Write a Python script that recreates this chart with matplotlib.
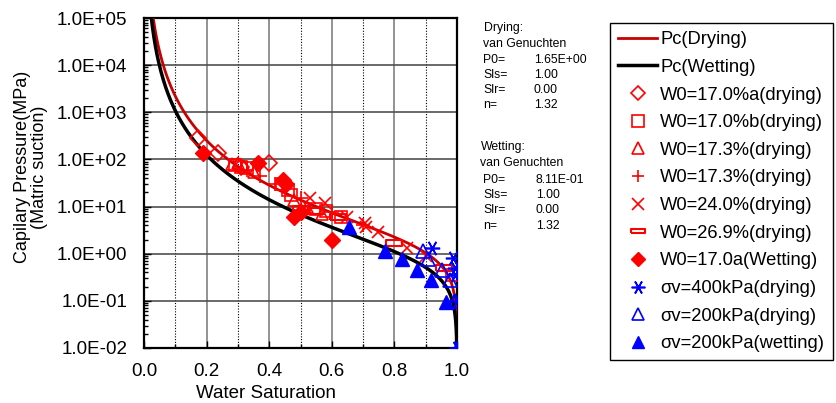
import numpy as np
import matplotlib
matplotlib.use("Agg")
import matplotlib.pyplot as plt
from matplotlib.ticker import FuncFormatter, MultipleLocator, LogLocator

plt.rcParams['font.family'] = ['Liberation Sans', 'DejaVu Sans']

# van Genuchten parameters shown on the chart
dry_P0, dry_Sls, dry_Slr, dry_n = 1.65, 1.00, 0.00, 1.32
wet_P0, wet_Sls, wet_Slr, wet_n = 0.811, 1.00, 0.00, 1.32

# measured points (saturation, capillary pressure MPa)
w170a_dry_S = [0.173, 0.235, 0.40, 0.31]
w170a_dry_P = [280, 140, 82, 70]
w170b_dry_S = [0.29, 0.31, 0.33, 0.44, 0.46, 0.47, 0.55, 0.58, 0.63, 0.985]
w170b_dry_P = [75, 70, 65, 30, 22, 18, 9, 8, 6, 0.35]
w173_dry_S = [0.28, 0.30, 0.32, 0.35, 0.48, 0.52, 0.57]
w173_dry_P = [80, 85, 72, 55, 14, 10, 7]
w173p_dry_S = [0.33, 0.37, 0.42, 0.50, 0.60, 0.70]
w173p_dry_P = [60, 45, 30, 15, 7.5, 4]
w240_dry_S = [0.53, 0.578, 0.648, 0.706, 0.71, 0.748, 0.84, 0.90]
w240_dry_P = [15, 12, 6, 4.5, 3.7, 2.9, 1.3, 0.9]
w269_dry_S = [0.50, 0.55, 0.62, 0.80, 0.96]
w269_dry_P = [9, 8, 6, 1.7, 0.5]
w170a_wet_S = [0.19, 0.365, 0.445, 0.455, 0.48, 0.50, 0.60]
w170a_wet_P = [140, 83, 36, 30, 6, 7.5, 2]
s400_dry_S = [0.92, 0.987, 0.995, 0.994, 1.0, 1.0]
s400_dry_P = [1.3, 0.8, 0.5, 0.35, 0.1, 0.01]
s200_dry_S = [0.891, 0.907, 0.952, 0.978, 0.995]
s200_dry_P = [1.15, 0.78, 0.45, 0.28, 0.1]
s200_wet_S = [0.655, 0.77, 0.824, 0.872, 0.917, 0.965, 1.0]
s200_wet_P = [3.7, 1.15, 0.78, 0.45, 0.28, 0.095, 0.01]


def van_genuchten(S, P0, Sls, Slr, n):
    m = 1.0 - 1.0 / n
    Se = (S - Slr) / (Sls - Slr)
    return P0 * (Se ** (-1.0 / m) - 1.0) ** (1.0 - m)


S = np.concatenate([np.linspace(0.005, 0.99, 400), 1 - np.logspace(-2, -6, 200)])
pc_dry = van_genuchten(S, dry_P0, dry_Sls, dry_Slr, dry_n)
pc_wet = van_genuchten(S, wet_P0, wet_Sls, wet_Slr, wet_n)

W, H = 836, 403
fig = plt.figure(figsize=(W / 100, H / 100), dpi=100)
ax = fig.add_axes([144 / W, 1 - 348 / H, (457 - 144) / W, (348 - 18) / H])

ax.plot(S, pc_dry, color='#c80000', lw=2, label='Pc(Drying)', zorder=3)
ax.plot(S, pc_wet, color='black', lw=2.5, label='Pc(Wetting)', zorder=3)

red, blue = '#ff0000', '#0000ff'
dash = [(-1, -0.35), (1, -0.35), (1, 0.35), (-1, 0.35), (-1, -0.35)]
ms = 9
ax.plot(w170a_dry_S, w170a_dry_P, ls='none', marker='D', ms=ms - 1, mfc='none', mec=red, mew=1.2,
        label='W0=17.0%a(drying)', zorder=4)
ax.plot(w170b_dry_S, w170b_dry_P, ls='none', marker='s', ms=ms, mfc='none', mec=red, mew=1.2,
        label='W0=17.0%b(drying)', zorder=4)
ax.plot(w173_dry_S, w173_dry_P, ls='none', marker='^', ms=ms, mfc='none', mec=red, mew=1.2,
        label='W0=17.3%(drying)', zorder=4)
ax.plot(w173p_dry_S, w173p_dry_P, ls='none', marker='+', ms=ms + 1, mec=red, mew=1.2,
        label='W0=17.3%(drying)', zorder=4)
ax.plot(w240_dry_S, w240_dry_P, ls='none', marker='x', ms=ms, mec=red, mew=1.2,
        label='W0=24.0%(drying)', zorder=4)
ax.plot(w269_dry_S, w269_dry_P, ls='none', marker=dash, ms=ms + 2, mfc='none', mec=red, mew=1.5,
        label='W0=26.9%(drying)', zorder=4)
ax.plot(w170a_wet_S, w170a_wet_P, ls='none', marker='D', ms=ms - 1, mfc=red, mec=red,
        label='W0=17.0a(Wetting)', zorder=4)
ax.plot(s400_dry_S, s400_dry_P, ls='none', marker=(6, 2, 90), ms=ms + 2, mec=blue, mew=1.2,
        label='σv=400kPa(drying)', zorder=5)
ax.plot(s200_dry_S, s200_dry_P, ls='none', marker='^', ms=ms + 1, mfc='none', mec=blue, mew=1.2,
        label='σv=200kPa(drying)', zorder=5)
ax.plot(s200_wet_S, s200_wet_P, ls='none', marker='^', ms=ms + 1, mfc=blue, mec=blue,
        label='σv=200kPa(wetting)', zorder=5)

ax.set_yscale('log')
ax.set_xlim(0, 1)
ax.set_ylim(1e-2, 1e5)
ax.xaxis.set_major_locator(MultipleLocator(0.2))
ax.xaxis.set_minor_locator(MultipleLocator(0.1))
ax.xaxis.set_major_formatter(FuncFormatter(lambda v, p: f"{v:.1f}"))
ax.yaxis.set_major_locator(LogLocator(base=10, numticks=20))
ax.yaxis.set_minor_locator(LogLocator(base=10, subs=np.arange(2, 10), numticks=20))
ax.yaxis.set_major_formatter(FuncFormatter(lambda v, p: f"{v:.1E}"))
ax.tick_params(which='both', direction='in', labelsize=13.5, length=5, width=1)
ax.tick_params(which='minor', length=3)
ax.tick_params(axis='x', pad=11)
ax.tick_params(axis='y', pad=12)
ax.grid(True, axis='x', which='major', color='#808080', lw=1.2)
ax.grid(True, axis='x', which='minor', color='black', lw=0.8, ls=(0, (1, 1.5)))
ax.grid(True, axis='y', which='major', color='#505050', lw=1.2)
for sp in ax.spines.values():
    sp.set_linewidth(1.6)

# axis titles
fig.text(266 / W, 1 - 393 / H, 'Water Saturation', fontsize=13.5, ha='center', va='center')
fig.text(31 / W, 1 - 167 / H, 'Capilary Pressure(MPa)\n(Matric suction)', fontsize=13,
         rotation=90, ha='center', va='center', linespacing=1.0, multialignment='center')

# fitted parameter text
def ftxt(x, y, s, size=8.8):
    fig.text(x / W, 1 - y / H, s, fontsize=size, va='center', ha='left')

ftxt(484, 28, 'Drying:')
ftxt(483, 44, 'van Genuchten')
for (lbl, val, y) in [('P0=', '1.65E+00', 60), ('Sls=', '1.00', 75), ('Slr=', '0.00', 90), ('n=', '1.32', 105)]:
    ftxt(483, y, lbl)
    ftxt(534, y, val)
ftxt(481, 147, 'Wetting:')
ftxt(480, 163, 'van Genuchten')
for (lbl, val, y) in [('P0=', '8.11E-01', 180), ('Sls=', '1.00', 195), ('Slr=', '0.00', 210), ('n=', '1.32', 226)]:
    ftxt(483, y, lbl)
    ftxt(536, y, val)

leg = fig.legend(loc='upper left', bbox_to_anchor=(610 / W, 1 - 23 / H), fontsize=13.2,
                 frameon=True, fancybox=False, edgecolor='black', framealpha=1,
                 handlelength=2.1, handletextpad=0.2, labelspacing=0.58, borderpad=0.45,
                 borderaxespad=0, markerscale=0.9)
leg.get_frame().set_linewidth(1.0)

fig.savefig('out.png', dpi=100)
